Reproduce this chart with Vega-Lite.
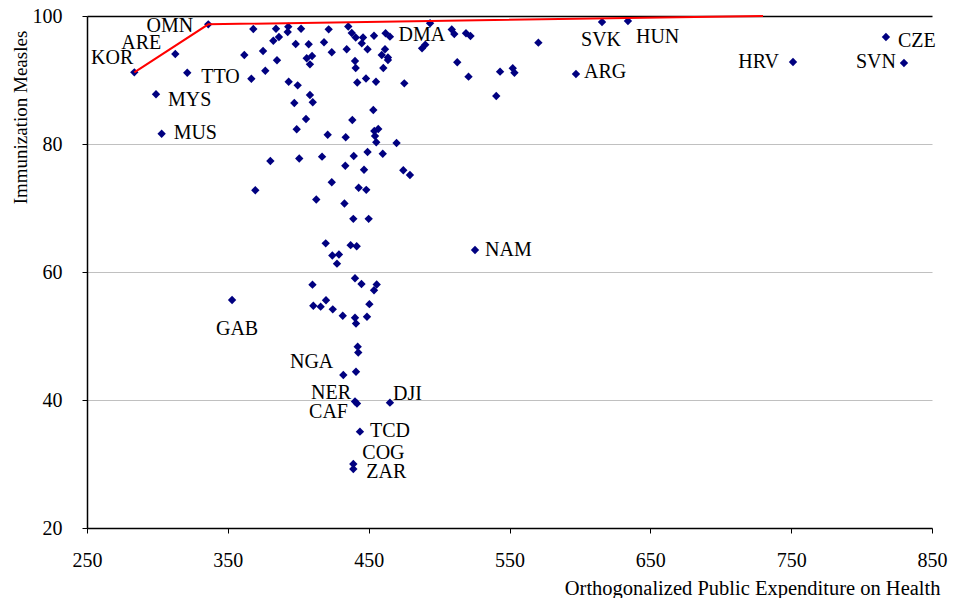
{
  "$schema": "https://vega.github.io/schema/vega-lite/v6.json",
  "width": 845,
  "height": 512,
  "autosize": {"type": "none"},
  "padding": {"left": 87, "top": 16, "right": 33, "bottom": 70},
  "background": "white",
  "config": {
    "view": {"stroke": null},
    "font": "Liberation Serif",
    "text": {"font": "Liberation Serif", "fontSize": 20, "color": "black", "baseline": "middle"},
    "axis": {
      "labelFont": "Liberation Serif",
      "labelFontSize": 20,
      "labelColor": "black",
      "labelFlush": false,
      "labelOverlap": false,
      "titleFont": "Liberation Serif",
      "titleFontSize": 20.5,
      "titleFontWeight": "normal",
      "titleColor": "black",
      "domainColor": "black",
      "domainWidth": 1.5,
      "tickColor": "black",
      "tickSize": 5
    }
  },
  "datasets": {
    "countries": [
      {"expenditure": 368.1, "measles": 97.97}, {"expenditure": 384.2, "measles": 98.0},
      {"expenditure": 392.9, "measles": 98.33}, {"expenditure": 392.5, "measles": 97.5},
      {"expenditure": 402.0, "measles": 98.0}, {"expenditure": 421.6, "measles": 97.92},
      {"expenditure": 382.3, "measles": 96.14}, {"expenditure": 386.3, "measles": 96.72},
      {"expenditure": 398.2, "measles": 95.63}, {"expenditure": 407.4, "measles": 95.58},
      {"expenditure": 418.3, "measles": 95.89}, {"expenditure": 361.7, "measles": 93.91},
      {"expenditure": 375.0, "measles": 94.53}, {"expenditure": 384.9, "measles": 93.08},
      {"expenditure": 406.0, "measles": 93.39}, {"expenditure": 409.8, "measles": 93.75},
      {"expenditure": 408.3, "measles": 92.45}, {"expenditure": 423.8, "measles": 94.33},
      {"expenditure": 376.6, "measles": 91.45}, {"expenditure": 366.7, "measles": 90.2},
      {"expenditure": 393.2, "measles": 89.73}, {"expenditure": 399.6, "measles": 89.17},
      {"expenditure": 408.3, "measles": 87.66}, {"expenditure": 397.2, "measles": 86.41},
      {"expenditure": 410.3, "measles": 86.52}, {"expenditure": 435.5, "measles": 98.36},
      {"expenditure": 438.0, "measles": 97.34}, {"expenditure": 440.8, "measles": 96.64},
      {"expenditure": 446.0, "measles": 96.64}, {"expenditure": 445.1, "measles": 95.73},
      {"expenditure": 453.8, "measles": 96.91}, {"expenditure": 462.0, "measles": 97.3, "country": "DMA"},
      {"expenditure": 465.1, "measles": 96.77}, {"expenditure": 434.4, "measles": 94.8},
      {"expenditure": 449.2, "measles": 94.8}, {"expenditure": 461.6, "measles": 94.8},
      {"expenditure": 459.3, "measles": 93.91}, {"expenditure": 463.7, "measles": 93.52},
      {"expenditure": 463.7, "measles": 93.13}, {"expenditure": 440.3, "measles": 92.97},
      {"expenditure": 440.8, "measles": 91.88}, {"expenditure": 460.4, "measles": 91.88},
      {"expenditure": 441.9, "measles": 89.61}, {"expenditure": 448.1, "measles": 90.23},
      {"expenditure": 455.2, "measles": 89.73}, {"expenditure": 475.3, "measles": 89.48},
      {"expenditure": 453.3, "measles": 85.31}, {"expenditure": 493.6, "measles": 98.86},
      {"expenditure": 487.9, "measles": 94.95}, {"expenditure": 490.2, "measles": 95.52},
      {"expenditure": 509.0, "measles": 97.89}, {"expenditure": 510.8, "measles": 97.19},
      {"expenditure": 519.1, "measles": 97.3}, {"expenditure": 522.3, "measles": 96.88},
      {"expenditure": 512.9, "measles": 92.77}, {"expenditure": 520.9, "measles": 90.52},
      {"expenditure": 543.3, "measles": 91.3}, {"expenditure": 552.3, "measles": 91.83},
      {"expenditure": 553.5, "measles": 91.14}, {"expenditure": 540.6, "measles": 87.5},
      {"expenditure": 570.5, "measles": 95.83},
      {"expenditure": 405.5, "measles": 83.91}, {"expenditure": 398.9, "measles": 82.3},
      {"expenditure": 420.9, "measles": 81.45}, {"expenditure": 438.4, "measles": 83.75},
      {"expenditure": 456.8, "measles": 82.34}, {"expenditure": 454.0, "measles": 82.03},
      {"expenditure": 454.5, "measles": 81.25}, {"expenditure": 433.7, "measles": 81.05},
      {"expenditure": 455.4, "measles": 80.27}, {"expenditure": 469.8, "measles": 80.16},
      {"expenditure": 380.2, "measles": 77.34}, {"expenditure": 400.7, "measles": 77.73},
      {"expenditure": 416.9, "measles": 78.02}, {"expenditure": 439.4, "measles": 78.13},
      {"expenditure": 449.2, "measles": 78.75}, {"expenditure": 460.0, "measles": 78.47},
      {"expenditure": 433.4, "measles": 76.61}, {"expenditure": 446.7, "measles": 75.98},
      {"expenditure": 474.6, "measles": 75.89}, {"expenditure": 479.3, "measles": 75.16},
      {"expenditure": 423.8, "measles": 74.02}, {"expenditure": 369.5, "measles": 72.77},
      {"expenditure": 442.9, "measles": 73.16}, {"expenditure": 448.3, "measles": 72.84},
      {"expenditure": 412.8, "measles": 71.33}, {"expenditure": 432.8, "measles": 70.7},
      {"expenditure": 439.1, "measles": 68.31}, {"expenditure": 450.0, "measles": 68.31},
      {"expenditure": 419.5, "measles": 64.48}, {"expenditure": 437.2, "measles": 64.19},
      {"expenditure": 441.5, "measles": 64.03}, {"expenditure": 424.2, "measles": 62.58},
      {"expenditure": 428.9, "measles": 62.73}, {"expenditure": 427.5, "measles": 61.3},
      {"expenditure": 525.5, "measles": 63.44, "country": "NAM"},
      {"expenditure": 440.3, "measles": 59.02}, {"expenditure": 444.9, "measles": 58.13},
      {"expenditure": 455.7, "measles": 58.05}, {"expenditure": 453.8, "measles": 57.14},
      {"expenditure": 410.1, "measles": 58.02}, {"expenditure": 419.7, "measles": 55.58},
      {"expenditure": 410.7, "measles": 54.73}, {"expenditure": 415.9, "measles": 54.58},
      {"expenditure": 424.5, "measles": 54.17}, {"expenditure": 450.5, "measles": 54.97},
      {"expenditure": 431.6, "measles": 53.16}, {"expenditure": 440.3, "measles": 52.86},
      {"expenditure": 441.0, "measles": 51.95}, {"expenditure": 448.8, "measles": 53.0},
      {"expenditure": 442.2, "measles": 48.33}, {"expenditure": 442.6, "measles": 47.42},
      {"expenditure": 432.0, "measles": 43.91, "country": "NGA"},
      {"expenditure": 441.0, "measles": 44.42},
      {"expenditure": 440.3, "measles": 39.77, "country": "NER"},
      {"expenditure": 441.7, "measles": 39.45, "country": "CAF"},
      {"expenditure": 465.1, "measles": 39.58, "country": "DJI"},
      {"expenditure": 443.8, "measles": 35.05, "country": "TCD"},
      {"expenditure": 439.1, "measles": 30.0, "country": "COG"},
      {"expenditure": 439.1, "measles": 29.22, "country": "ZAR"},
      {"expenditure": 353.0, "measles": 55.63, "country": "GAB"},
      {"expenditure": 283.6, "measles": 91.2, "country": "KOR"},
      {"expenditure": 312.7, "measles": 94.06, "country": "ARE"},
      {"expenditure": 336.1, "measles": 98.7, "country": "OMN"},
      {"expenditure": 321.2, "measles": 91.14, "country": "TTO"},
      {"expenditure": 299.0, "measles": 87.77, "country": "MYS"},
      {"expenditure": 303.0, "measles": 81.61, "country": "MUS"},
      {"expenditure": 597.2, "measles": 90.94, "country": "ARG"},
      {"expenditure": 615.7, "measles": 99.06, "country": "SVK"},
      {"expenditure": 634.1, "measles": 99.22, "country": "HUN"},
      {"expenditure": 751.3, "measles": 92.81, "country": "HRV"},
      {"expenditure": 817.3, "measles": 96.72, "country": "CZE"},
      {"expenditure": 830.1, "measles": 92.66, "country": "SVN"}
    ],
    "frontier": [
      {"expenditure": 283.6, "measles": 91.2},
      {"expenditure": 336.1, "measles": 98.7},
      {"expenditure": 730.0, "measles": 100.0}
    ]
  },
  "encoding": {
    "x": {
      "field": "expenditure",
      "type": "quantitative",
      "scale": {"domain": [250, 850], "nice": false, "zero": false},
      "axis": {
        "values": [250, 350, 450, 550, 650, 750, 850],
        "grid": false,
        "labelBaseline": "middle",
        "labelPadding": 27,
        "title": "Orthogonalized Public Expenditure on Health",
        "titleX": 853,
        "titleY": 60,
        "titleAlign": "right",
        "titleBaseline": "middle"
      }
    },
    "y": {
      "field": "measles",
      "type": "quantitative",
      "scale": {"domain": [20, 100], "nice": false, "zero": false},
      "axis": {
        "values": [20, 40, 60, 80, 100],
        "grid": true,
        "gridColor": {"condition": {"test": "datum.value === 100", "value": "black"}, "value": "#c0c0c0"},
        "gridWidth": {"condition": {"test": "datum.value === 100", "value": 1.5}, "value": 1.2},
        "labelPadding": 20,
        "title": "Immunization Measles",
        "titleFontSize": 19,
        "titleX": -67,
        "titleY": 101,
        "titleAngle": -90,
        "titleAlign": "center",
        "titleBaseline": "middle"
      }
    }
  },
  "layer": [
    {
      "data": {"name": "countries"},
      "mark": {"type": "point", "shape": "diamond", "filled": true, "size": 70, "color": "#000080", "opacity": 1}
    },
    {
      "data": {"name": "frontier"},
      "mark": {"type": "line", "color": "#ff0000", "strokeWidth": 2}
    },
    {
      "data": {"name": "countries"},
      "encoding": {"text": {"field": "country"}},
      "layer": [
        {"transform": [{"filter": "datum.country === 'KOR'"}], "mark": {"type": "text", "align": "right", "dx": -1, "dy": -14}},
        {"transform": [{"filter": "datum.country === 'ARE'"}], "mark": {"type": "text", "align": "right", "dx": -14, "dy": -11}},
        {"transform": [{"filter": "datum.country === 'OMN'"}], "mark": {"type": "text", "align": "right", "dx": -15, "dy": 2}},
        {"transform": [{"filter": "datum.country === 'TTO'"}], "mark": {"type": "text", "align": "left", "dx": 14, "dy": 4}},
        {"transform": [{"filter": "datum.country === 'MYS'"}], "mark": {"type": "text", "align": "left", "dx": 12, "dy": 6}},
        {"transform": [{"filter": "datum.country === 'MUS'"}], "mark": {"type": "text", "align": "left", "dx": 12, "dy": -1}},
        {"transform": [{"filter": "datum.country === 'DMA'"}], "mark": {"type": "text", "align": "left", "dx": 13, "dy": 2}},
        {"transform": [{"filter": "datum.country === 'NAM'"}], "mark": {"type": "text", "align": "left", "dx": 10, "dy": 0}},
        {"transform": [{"filter": "datum.country === 'GAB'"}], "mark": {"type": "text", "align": "center", "dx": 5, "dy": 29}},
        {"transform": [{"filter": "datum.country === 'NGA'"}], "mark": {"type": "text", "align": "right", "dx": -10, "dy": -13}},
        {"transform": [{"filter": "datum.country === 'NER'"}], "mark": {"type": "text", "align": "right", "dx": -4, "dy": -8}},
        {"transform": [{"filter": "datum.country === 'CAF'"}], "mark": {"type": "text", "align": "right", "dx": -9, "dy": 8}},
        {"transform": [{"filter": "datum.country === 'DJI'"}], "mark": {"type": "text", "align": "left", "dx": 3, "dy": -9}},
        {"transform": [{"filter": "datum.country === 'TCD'"}], "mark": {"type": "text", "align": "left", "dx": 10, "dy": -1}},
        {"transform": [{"filter": "datum.country === 'COG'"}], "mark": {"type": "text", "align": "left", "dx": 9, "dy": -11}},
        {"transform": [{"filter": "datum.country === 'ZAR'"}], "mark": {"type": "text", "align": "left", "dx": 13, "dy": 3}},
        {"transform": [{"filter": "datum.country === 'ARG'"}], "mark": {"type": "text", "align": "left", "dx": 8, "dy": -2}},
        {"transform": [{"filter": "datum.country === 'SVK'"}], "mark": {"type": "text", "align": "center", "dx": -1, "dy": 18}},
        {"transform": [{"filter": "datum.country === 'HUN'"}], "mark": {"type": "text", "align": "left", "dx": 8, "dy": 16}},
        {"transform": [{"filter": "datum.country === 'HRV'"}], "mark": {"type": "text", "align": "right", "dx": -14, "dy": 0}},
        {"transform": [{"filter": "datum.country === 'CZE'"}], "mark": {"type": "text", "align": "left", "dx": 12, "dy": 4}},
        {"transform": [{"filter": "datum.country === 'SVN'"}], "mark": {"type": "text", "align": "right", "dx": -8, "dy": -1}}
      ]
    }
  ]
}
